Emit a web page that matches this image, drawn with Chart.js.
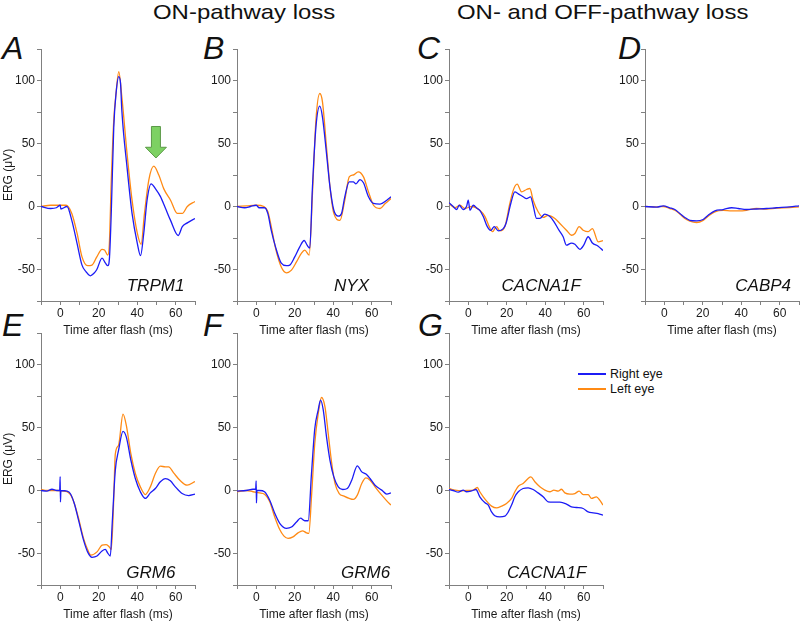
<!DOCTYPE html>
<html>
<head>
<meta charset="utf-8">
<script src="https://cdn.jsdelivr.net/npm/chart.js@4.4.0/dist/chart.umd.min.js"></script>
<style>
  body { margin: 0; width: 800px; height: 622px; overflow: hidden; background: #fff;
         font-family: "Liberation Sans", Arial, sans-serif; position: relative; color: #111; }
  canvas { position: absolute; }
  .title { position: absolute; font-size: 21px; line-height: 1; white-space: nowrap;
           transform: scaleX(1.14); transform-origin: left center; }
  .letter { position: absolute; font-size: 32px; line-height: 1; font-style: italic; }
  .leg-line { position: absolute; width: 28px; height: 1.5px; }
  .leg-text { position: absolute; font-size: 12.5px; line-height: 1; }
</style>
</head>
<body>
<div class="title" style="left:153px; top:1px;">ON-pathway loss</div>
<div class="title" style="left:457px; top:1px;">ON- and OFF-pathway loss</div>

<div class="letter" style="left:2px; top:32px;">A</div>
<div class="letter" style="left:203px; top:32px;">B</div>
<div class="letter" style="left:417px; top:32px;">C</div>
<div class="letter" style="left:618px; top:32px;">D</div>
<div class="letter" style="left:2px; top:309px;">E</div>
<div class="letter" style="left:203px; top:309px;">F</div>
<div class="letter" style="left:418px; top:309px;">G</div>

<div class="leg-line" style="left:578px; top:373px; background:#1c1cf5;"></div>
<div class="leg-text" style="left:610px; top:368px;">Right eye</div>
<div class="leg-line" style="left:578px; top:388px; background:#ff8a14;"></div>
<div class="leg-text" style="left:610px; top:383px;">Left eye</div>

<script>
// tick labels
const xLabels = [0, 20, 40, 60];
const yLabels = [-50, 0, 50, 100];

// A  TRPM1
const aTimeR = [-10,-5,-2,0,0.3,3.5,6,8.7,11.3,13.5,15.6,17.5,19,21.7,23.5,24.7,25.6,26.5,27.8,29,30.4,31.3,32,34.7,37.3,40,41.7,43.4,45.1,47.2,49.5,52,54.7,57.3,61.3,63.4,66,70];
const aRight = [0,-1.6,-1,1,-2,0,-11,-29,-46.5,-52,-55,-53,-50,-41,-45,-47,-40,-5,63,90,103,98,76,31,-5.5,-29,-39,-21,5,18,14,8,-1.6,-11,-23,-16,-13,-9.5];
const aTimeL = [-10,-5,0,3,6,8.7,11.3,14.2,16.5,19,21.7,23,24.7,25.5,26.5,27.8,29,30.4,32,34.7,37.3,40,42,43.75,46,48.6,51.2,53.8,57.3,60.8,63.4,66,70];
const aLeft  = [0,1,1,1,-5.5,-21,-40,-47,-46.5,-40,-34,-34.5,-38.6,-30,20,68.5,90,107,87,42,5,-21,-30,-5.5,21,32,25,14,5,-5.5,-5.5,0,4];

// B  NYX
const bTimeR = [-10,-6,-3,0,1.5,4.3,6,7.8,10,13,15.7,17.4,20,22.6,24.9,26.4,27.8,29.2,31,33,34.4,36.5,38.3,40.3,42.6,44.3,46,48.3,50.4,51.8,53.9,55.7,58.3,60.9,64.3,67.8,70];
const bRight = [0,-1,0,1,-1,-1,-5.5,-19,-32,-45,-47,-46.5,-40,-32,-27,-30.7,-33,15.6,63,79.6,71,42,15.6,-3,-7.7,-5.5,7.7,19.6,19.6,18,21.4,18.8,7.7,2.4,1.9,5,7.7];
const bTimeL = [-10,-5,0,4,6,7.8,10,13,15.7,18.3,20.9,23.5,25.2,27.5,29.2,31,33,34.4,36.5,38.3,40.3,43.5,46,48.3,50.4,53,55.7,58.3,60.9,64.3,67,70];
const bLeft  = [0,0.5,1,0,-4,-16,-33,-48,-52.6,-50.5,-44,-37,-34.7,-38.6,10,68.5,89.7,83,47,15.6,-5.5,-11,5,23.5,25,27.5,23.5,11.6,1,-1.6,2.4,6.3];

// C  CACNA1F
const cTimeR = [-10,-7.8,-6,-4.7,-2.6,-0.9,0,0.9,2.6,4.7,6,7.8,9.9,11.6,13.5,15.6,18.2,19.6,22.1,24.2,26,28.5,30.3,32.4,33.7,35.5,37.2,39.8,42.4,44.5,47.2,49.3,51,53.6,55.4,58,60,62.3,64.5,67.5,70];
const cRight = [3,0,-2.4,1,-2.4,0,5,-3,1,-1.6,-3,-8,-16,-19,-16,-19.3,-17.5,-13.5,2.4,11.6,10,7.7,6.3,7.7,1,-9.5,-9.5,-6,-8,-12,-19,-24,-30.7,-29,-30,-34,-30.7,-24,-29,-31.5,-35];
const cTimeL = [-10,-6.9,-4.3,-1.7,1.7,6,8.7,10.9,12.6,14.7,16.4,19,21.6,23.4,25.4,27.7,30.3,32,33.7,36.3,38.9,41.5,45,47.6,51,53.6,55.4,57.6,59.7,62.3,64.5,67.5,70];
const cLeft  = [2.4,-1,1,-1.6,0,-3,-8,-16,-20,-16,-19.3,-16,2.4,13,17.7,11.6,13.5,14.3,5,-4.2,-8.7,-7,-9.5,-13.5,-18.8,-22.8,-21.4,-16,-18.8,-20,-17.5,-28,-27];

// D  CABP4
const dTime  = [-10,-4,-0.5,2.9,5.5,8.1,10.7,13.3,16.8,20.2,22.8,26.3,30.6,35,38.4,42.7,47.9,53.1,58.3,65.2,70];
const dRight = [0,-0.5,0.5,-1,-2.4,-5.5,-8.7,-11,-11.4,-10.3,-7,-3.4,-2.4,-1,-1.6,-2.4,-2,-1.6,-1,-0.3,0.5];
const dLeft  = [0,-0.3,0,-1.6,-3,-6,-9.5,-11.6,-12.7,-11,-7.7,-4.2,-3,-3.4,-3.4,-3,-1.6,-2,-1.3,-0.8,-0.3];

// E  GRM6
const eTimeR = [-10,-7,-4.3,-1.7,-0.3,-0.05,0.1,0.35,3.5,5.2,7.3,9.5,12.1,14.2,16.5,19.1,21.7,23.4,24.6,26,27,28.6,30.3,32.6,34.3,36.7,39,41.6,44.2,46.8,49.4,52,54.6,57.2,59.8,63.3,66.7,70];
const eRight = [0,-0.5,1,0,0,11,-9,0,-0.5,-2.4,-10.3,-23.5,-39.4,-48.7,-53,-52,-48,-46.8,-49.5,-52,-26,16,32,47,42.6,24,9.5,-1,-6.3,-1.9,1.6,6.9,9.5,7.7,2.9,-2.4,-4,-2.9];
const eTimeL = [-10,-7,-1.7,0.9,3.5,5.5,7.3,9.5,12.1,14.2,15.9,19.1,21.7,23.9,25.6,26.5,27.7,28.6,30.3,32.6,34.3,36.7,39,41.6,44.2,46.8,49.4,52,54.6,56.3,58.9,62.4,65.9,70];
const eLeft  = [0.8,0,0,-0.3,-1,-3.7,-10.3,-22,-38,-46.8,-51.3,-48.7,-43.4,-42.9,-45,-46.8,-10.3,29,36,60.6,51.9,29,13.5,2.9,-3.2,2.9,13.5,19.3,18.8,18.8,14,7.7,4.2,7.1];

// F  GRM6
const fTimeR = [-10,-5.2,-1.7,-0.3,-0.05,0.1,0.35,1.7,4.3,7,9.6,12.2,15.7,18.3,20.9,23,25.2,27,28.7,30.4,32.2,33.4,34.8,36.5,38.3,40.3,42.6,44.9,47.3,49.6,52.5,54.8,57,59.1,61.7,65.2,67.8,70];
const fRight = [-0.5,0,1,1,7.7,-9.8,0,0,-1,-7.7,-18,-26,-30,-29,-25,-22,-24,-24,13.5,49,64,71.7,64,42.6,24,10.8,2.9,0.8,1.6,8.2,19.6,14.8,13,9.5,4.2,0.3,-2.9,-1.9];
const fTimeL = [-10,-5.2,-1.7,1.7,4.3,7,9.6,12.2,14.3,16.5,19.1,21.7,24,26.1,27.3,28.7,30.4,32.2,33.9,35.7,37.4,39.1,40.9,43.1,45.6,48.3,50.4,52.5,54.8,57,59.1,61.7,65.2,67.8,70];
const fLeft  = [-1,0,-1,-1.9,-2.9,-9,-21,-31,-36,-38,-36.8,-33.6,-32,-33.6,-34,-5,37.3,61,73.8,66.4,45,22.8,5.6,-2.4,-4.5,-6.3,-7.1,-3.7,5.6,10,8.2,2.9,-3.7,-8.2,-11.6];

// G  CACNA1F
const gTimeR = [-10,-7.8,-5.2,-2.6,-0.9,1.7,4,6,8.7,10.4,12.1,13.8,16.4,19,20.8,22.5,24.2,26,28.5,31.1,33.7,36.3,38.9,41.5,44.1,47.6,51,53.6,56.2,59.7,62.3,64.9,67.5,70];
const gRight = [0.8,0,-1.3,0.3,-1,-0.3,0.8,-5,-9.8,-11.6,-17,-20,-20.9,-20.4,-17,-11.6,-5,-1,1.6,2.1,0.8,-1.9,-5,-9,-9.3,-9.3,-10.8,-13,-13.5,-14.3,-17,-17.7,-18.3,-19.6];
const gTimeL = [-10,-6.9,-3.5,-0.9,2.6,4.7,6,7.8,9.9,12.1,14.7,17.3,19.9,22.5,24.2,26,28.5,31.1,32.5,34.6,37.2,39.8,42.4,44.5,46.7,48.4,50.2,52.8,55.4,57.6,59.7,62.3,64,66.6,68.3,70];
const gLeft  = [1.6,0.3,-0.3,0,0.3,2.4,-1,-5,-9,-12.4,-13.8,-12.4,-10.3,-6.3,-1,3.4,5.6,9.5,10.8,6.9,2.9,0.3,-1,0.3,-0.5,1,-1.9,-2.9,-2.4,-0.5,-3.2,-3.2,-6.3,-5,-7.7,-11.6];

const BLUE = '#1c1cf5';
const ORANGE = '#ff8a14';
const AXIS = '#808080';

Chart.defaults.font.family = '"Liberation Sans", Arial, sans-serif';
Chart.defaults.font.size = 12;
Chart.defaults.color = '#1a1a1a';

function pts(ts, vs) { return ts.map((t, i) => ({ x: t, y: vs[i] })); }

// gene name + green arrow
const annot = {
  id: 'annot',
  afterDatasetsDraw(chart, args, opts) {
    const ctx = chart.ctx, sx = chart.scales.x, sy = chart.scales.y;
    ctx.save();
    ctx.font = 'italic 17px "Liberation Sans", Arial, sans-serif';
    ctx.fillStyle = '#111';
    ctx.textAlign = 'center';
    ctx.textBaseline = 'alphabetic';
    ctx.fillText(opts.gene, sx.getPixelForValue(opts.geneT), sy.getPixelForValue(opts.geneV));
    if (opts.arrow) {
      const cx = sx.getPixelForValue(opts.arrow.t);
      const y0 = sy.getPixelForValue(opts.arrow.top);
      const y1 = sy.getPixelForValue(opts.arrow.neck);
      const y2 = sy.getPixelForValue(opts.arrow.tip);
      ctx.beginPath();
      ctx.moveTo(cx - 4.5, y0);
      ctx.lineTo(cx + 4.5, y0);
      ctx.lineTo(cx + 4.5, y1);
      ctx.lineTo(cx + 10.5, y1);
      ctx.lineTo(cx, y2);
      ctx.lineTo(cx - 10.5, y1);
      ctx.lineTo(cx - 4.5, y1);
      ctx.closePath();
      ctx.fillStyle = '#7dd163';
      ctx.fill();
      ctx.strokeStyle = '#5b9a48';
      ctx.lineWidth = 1;
      ctx.stroke();
    }
    ctx.restore();
  }
};

function panel(p) {
  const padR = p.padR;
  const cv = document.createElement('canvas');
  cv.width = 41 + 154 + padR;
  cv.height = 10 + 252 + 39;
  cv.style.left = (p.axisX - 41) + 'px';
  cv.style.top = (p.top - 10) + 'px';
  document.body.appendChild(cv);
  new Chart(cv, {
    type: 'line',
    data: {
      datasets: [
        { label: 'Right eye', data: pts(p.tR, p.vR), borderColor: BLUE },
        { label: 'Left eye', data: pts(p.tL, p.vL), borderColor: ORANGE }
      ]
    },
    options: {
      responsive: false,
      animation: false,
      devicePixelRatio: 1,
      layout: { padding: { top: 10, right: padR, left: 0, bottom: 0 } },
      elements: {
        point: { radius: 0 },
        line: { borderWidth: 1.3, cubicInterpolationMode: 'monotone' }
      },
      plugins: {
        legend: { display: false },
        tooltip: { enabled: false },
        annot: { gene: p.gene, geneT: p.geneT, geneV: p.geneV, arrow: p.arrow }
      },
      scales: {
        x: {
          type: 'linear', min: -10, max: 70,
          afterFit(s) { s.height = 39; },
          ticks: { stepSize: 10, autoSkip: false, maxRotation: 0, padding: 1,
                   callback: v => xLabels.includes(v) ? String(v) : '' },
          grid: { drawOnChartArea: false, tickLength: 4, color: AXIS },
          border: { color: AXIS },
          title: { display: true, text: 'Time after flash (ms)', padding: { top: 0, bottom: 2 } }
        },
        y: {
          min: -75, max: 125,
          afterFit(s) { s.width = 41; },
          ticks: { stepSize: 25, autoSkip: false, padding: 2,
                   callback: v => yLabels.includes(v) ? String(v) : '' },
          grid: { drawOnChartArea: false, tickLength: 4, color: AXIS },
          border: { color: AXIS },
          title: { display: p.yTitle, text: 'ERG (μV)', padding: { top: 1, bottom: 0 } }
        }
      }
    },
    plugins: [annot]
  });
}

panel({ axisX: 41,  top: 49,  padR: 6, yTitle: true,  tR: aTimeR, vR: aRight, tL: aTimeL, vL: aLeft,
        gene: 'TRPM1', geneT: 49.5, geneV: -67, arrow: { t: 49.7, top: 63.5, neck: 47, tip: 38.5 } });
panel({ axisX: 237, top: 49,  padR: 6, yTitle: false, tR: bTimeR, vR: bRight, tL: bTimeL, vL: bLeft,
        gene: 'NYX', geneT: 49.5, geneV: -67 });
panel({ axisX: 449, top: 49,  padR: 6, yTitle: false, tR: cTimeR, vR: cRight, tL: cTimeL, vL: cLeft,
        gene: 'CACNA1F', geneT: 37.9, geneV: -67 });
panel({ axisX: 645, top: 49,  padR: 1, yTitle: false, tR: dTime, vR: dRight, tL: dTime, vL: dLeft,
        gene: 'CABP4', geneT: 51.4, geneV: -67 });
panel({ axisX: 41,  top: 333, padR: 6, yTitle: true,  tR: eTimeR, vR: eRight, tL: eTimeL, vL: eLeft,
        gene: 'GRM6', geneT: 47.1, geneV: -69.5 });
panel({ axisX: 237, top: 333, padR: 6, yTitle: false, tR: fTimeR, vR: fRight, tL: fTimeL, vL: fLeft,
        gene: 'GRM6', geneT: 56.8, geneV: -69.5 });
panel({ axisX: 449, top: 333, padR: 6, yTitle: false, tR: gTimeR, vR: gRight, tL: gTimeL, vL: gLeft,
        gene: 'CACNA1F', geneT: 40.7, geneV: -69.5 });
</script>
</body>
</html>
